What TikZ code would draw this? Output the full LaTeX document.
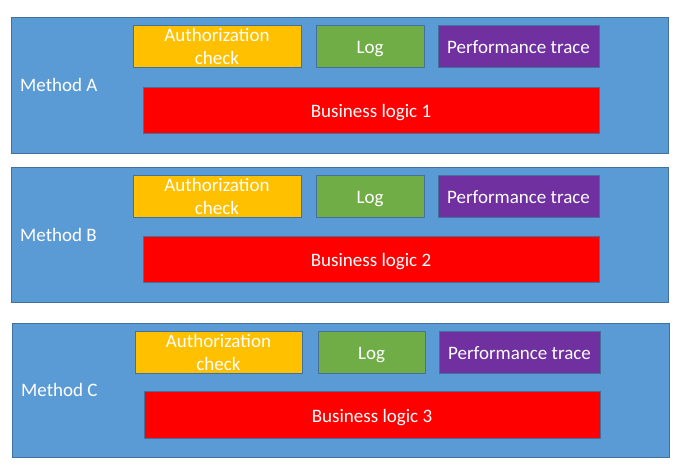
\documentclass[tikz,border=0pt]{standalone}
\usepackage{fontspec}
\setmainfont{Carlito}
\definecolor{mblue}{HTML}{5B9BD5}
\definecolor{edge}{HTML}{41719C}
\definecolor{myellow}{HTML}{FFC000}
\definecolor{mgreen}{HTML}{70AD47}
\definecolor{mpurple}{HTML}{7030A0}
\definecolor{mred}{HTML}{FF0000}
\newcommand\boxnode[8]{%
  \node[box, #8, fill=#2, minimum width={(#5-#3)*1pt}, minimum height={(#6-#4)*1pt}] (#1) at ({(#3+#5)/2},{(#4+#6)/2}) {#7};}
\begin{document}
\begin{tikzpicture}[x=1pt,y=-1pt,
  box/.style={draw=edge, line width=0.8pt, inner sep=0pt, text=white,
    font=\fontsize{19}{23}\selectfont, align=center},
  one/.style={text height=15.4pt, text depth=0pt},
  two/.style={},
  mlabel/.style={text=white, inner sep=0pt, anchor=base west, font=\fontsize{19}{23}\selectfont}]
\useasboundingbox (0,0) rectangle (681,464);
\fill[white] (0,0) rectangle (681,464);
% Method A
\boxnode{mA}{mblue}{11}{17}{668}{153}{}{two}
\node[mlabel] (lA) at (20,91) {Method A};
\boxnode{authA}{myellow}{133}{25.5}{301}{67}{Authorization\\check}{two}
\boxnode{logA}{mgreen}{316}{25.5}{424}{67}{Log}{one}
\boxnode{perfA}{mpurple}{438}{25.5}{599}{67}{Performance trace}{one}
\boxnode{busA}{mred}{143}{87}{599}{133}{Business logic 1}{one}
% Method B
\boxnode{mB}{mblue}{11}{167}{668}{302}{}{two}
\node[mlabel] (lB) at (20,241) {Method B};
\boxnode{authB}{myellow}{133}{175}{301}{217}{Authorization\\check}{two}
\boxnode{logB}{mgreen}{316}{175}{424}{217}{Log}{one}
\boxnode{perfB}{mpurple}{438}{175}{599}{217}{Performance trace}{one}
\boxnode{busB}{mred}{143}{236}{599}{282}{Business logic 2}{one}
% Method C
\boxnode{mC}{mblue}{12}{323}{669}{457}{}{two}
\node[mlabel] (lC) at (21,396) {Method C};
\boxnode{authC}{myellow}{135}{331}{302}{373}{Authorization\\check}{two}
\boxnode{logC}{mgreen}{318}{331}{425}{373}{Log}{one}
\boxnode{perfC}{mpurple}{439}{331}{600}{373}{Performance trace}{one}
\boxnode{busC}{mred}{144}{391}{600}{438}{Business logic 3}{one}
\end{tikzpicture}
\end{document}
